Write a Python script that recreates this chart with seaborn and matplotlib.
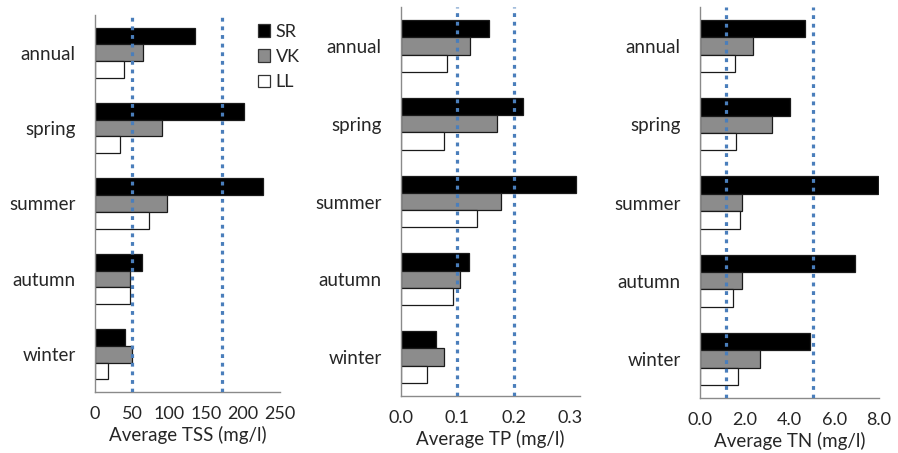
import numpy as np
import pandas as pd
import seaborn as sns
import matplotlib.pyplot as plt
from matplotlib.ticker import FormatStrFormatter, FixedLocator

# categories
seasons = ['annual', 'spring', 'summer', 'autumn', 'winter']
sites = ['SR', 'VK', 'LL']

# TSS (mg/l)
tss_sr = [135, 201, 227, 63, 40]
tss_vk = [65, 91, 97, 47, 50]
tss_ll = [39, 34, 73, 47, 17]
tss_ref = [50, 171]

# TP (mg/l)
tp_sr = [0.157, 0.217, 0.311, 0.121, 0.063]
tp_vk = [0.122, 0.170, 0.178, 0.105, 0.077]
tp_ll = [0.081, 0.076, 0.135, 0.092, 0.046]
tp_ref = [0.1, 0.2]

# TN (mg/l)
tn_sr = [4.69, 4.04, 7.97, 6.94, 4.90]
tn_vk = [2.38, 3.22, 1.86, 1.88, 2.68]
tn_ll = [1.58, 1.59, 1.79, 1.46, 1.68]
tn_ref = [1.17, 5.07]

colors = {'SR': '#000000', 'VK': '#8c8c8c', 'LL': '#ffffff'}
axis_grey = '#8a8a8a'
ref_blue = '#4a7ebb'


def long_df(sr, vk, ll):
    rows = []
    for site, vals in zip(sites, [sr, vk, ll]):
        for s, v in zip(seasons, vals):
            rows.append({'season': s, 'site': site, 'value': v})
    return pd.DataFrame(rows)


sns.set_style('white')
plt.rcParams['font.family'] = ['Lato', 'DejaVu Sans']

fig = plt.figure(figsize=(8.98, 4.53), dpi=100)

panels = [
    (long_df(tss_sr, tss_vk, tss_ll), tss_ref, 'Average TSS (mg/l)',
     [0, 50, 100, 150, 200, 250], (0, 250), '%d', [0.1058, 0.1347, 0.2060, 0.8322]),
    (long_df(tp_sr, tp_vk, tp_ll), tp_ref, 'Average TP (mg/l)',
     [0.0, 0.1, 0.2, 0.3], (0, 0.318), '%.1f', [0.4465, 0.1258, 0.1993, 0.8587]),
    (long_df(tn_sr, tn_vk, tn_ll), tn_ref, 'Average TN (mg/l)',
     [0, 2, 4, 6, 8], (0, 8), '%.1f', [0.7795, 0.1214, 0.1993, 0.8631]),
]

for i, (df, refs, xlabel, xticks, xlim, fmt, rect) in enumerate(panels):
    ax = fig.add_axes(rect)
    sns.barplot(data=df, y='season', x='value', hue='site', order=seasons,
                hue_order=sites, palette=colors, orient='h', width=0.667,
                edgecolor='#1a1a1a', linewidth=0.9, ax=ax, legend=(i == 0))
    for r in refs:
        ax.axvline(r, color=ref_blue, linewidth=2.3, linestyle=(0, (1.2, 1.5)),
                   zorder=5)

    ax.set_xlim(*xlim)
    ax.set_ylim(4.5, -0.5)
    ax.set_xticks(xticks)
    ax.xaxis.set_major_formatter(FormatStrFormatter(fmt))
    ax.set_xlabel(xlabel, fontsize=13.5, labelpad=3)
    ax.set_ylabel('')

    sns.despine(ax=ax)
    for sp in ['left', 'bottom']:
        ax.spines[sp].set_color(axis_grey)
        ax.spines[sp].set_linewidth(1.0)

    ax.tick_params(axis='x', which='major', direction='out', length=4,
                   width=1.0, color=axis_grey, pad=6, labelsize=13)
    ax.tick_params(axis='y', which='major', length=0, pad=14, labelsize=13.5)
    ax.yaxis.set_minor_locator(FixedLocator(np.arange(-0.5, 5, 1.0)))
    ax.tick_params(axis='y', which='minor', direction='out', length=4,
                   width=1.0, color=axis_grey)

    if i == 0:
        leg = ax.legend(loc='upper left', bbox_to_anchor=(0.84, 0.995),
                        frameon=False, fontsize=13, handlelength=0.7,
                        handleheight=0.7, handletextpad=0.3,
                        labelspacing=0.5, borderaxespad=0)
        for h in leg.get_patches():
            h.set_edgecolor('#333333')

fig.savefig('out.png', dpi=100)
